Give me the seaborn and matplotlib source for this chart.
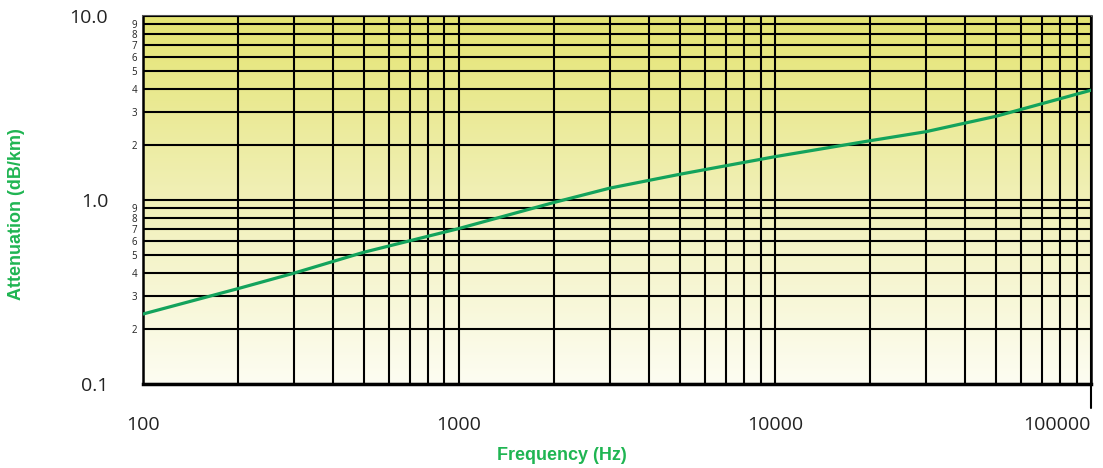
import numpy as np
import pandas as pd
import matplotlib
matplotlib.use("Agg")
import matplotlib.pyplot as plt
from matplotlib.ticker import FixedLocator, FuncFormatter, NullFormatter
from matplotlib.colors import LinearSegmentedColormap
import seaborn as sns

# values
freq_hz = [100, 200, 300, 500, 1000, 2000, 3000, 5000, 10000, 20000, 30000, 50000, 100000]
atten_db_km = [0.24, 0.33, 0.40, 0.52, 0.70, 0.97, 1.16, 1.38, 1.72, 2.1, 2.35, 2.85, 3.95]
x_major = [100, 1000, 10000, 100000]
x_major_labels = ["100", "1000", "10000", "100000"]
y_major = [0.1, 1.0, 10.0]
y_major_labels = ["0.1", "1.0", "10.0"]
y_minor_digits = [2, 3, 4, 5, 6, 7, 8, 9]

green_line = "#13a35c"
green_text = "#1fb552"

df = pd.DataFrame({"freq": freq_hz, "atten": atten_db_km})

sns.set_style("white")
plt.rcParams["font.family"] = ["Open Sans", "DejaVu Sans"]

fig = plt.figure(figsize=(11.03, 4.68), dpi=100)
ax = fig.add_axes([0.1296, 0.1795, 0.8595, 0.7863])
ax.set_xscale("log")
ax.set_yscale("log")
ax.set_xlim(100, 100000)
ax.set_ylim(0.1, 10)

# yellow to white background gradient
cmap = LinearSegmentedColormap.from_list("bg", ["#fdfdf2", "#f1f0b8", "#e4e472"])
grad = np.linspace(0, 1, 256).reshape(-1, 1)
ax.imshow(grad, cmap=cmap, aspect="auto", extent=[0, 1, 0, 1],
          transform=ax.transAxes, origin="lower", zorder=0)

# ticks
x_minor = [m * d for d in x_major[:-1] for m in range(2, 10)]
y_minor = [m * d for d in y_major[:-1] for m in y_minor_digits]
ax.xaxis.set_major_locator(FixedLocator(x_major))
ax.xaxis.set_minor_locator(FixedLocator(x_minor))
ax.xaxis.set_minor_formatter(NullFormatter())
ax.set_xticklabels(x_major_labels)
ax.yaxis.set_major_locator(FixedLocator(y_major))
ax.yaxis.set_minor_locator(FixedLocator(y_minor))
ax.set_yticklabels(y_major_labels)
ax.yaxis.set_minor_formatter(FuncFormatter(lambda v, p: "%d" % round(v / 10 ** np.floor(np.log10(v) + 1e-9))))

ax.tick_params(axis="x", which="major", length=0, pad=23, labelsize=14, colors="#222222")
ax.tick_params(axis="x", which="minor", length=0)
ax.tick_params(axis="y", which="major", length=13, width=1.5, pad=12, labelsize=14,
               colors="#222222", direction="out")
ax.tick_params(axis="y", which="minor", length=0, pad=4, labelsize=7, colors="#222222")
xt = ax.get_xticklabels()
xt[-1].set_horizontalalignment("right")

# grid
ax.grid(True, which="both", color="black", linewidth=1.5, zorder=1)
ax.set_axisbelow(False)

sns.lineplot(data=df, x="freq", y="atten", color=green_line, linewidth=2.3, ax=ax, zorder=3)

for side in ["left", "right", "bottom", "top"]:
    ax.spines[side].set_visible(True)
    ax.spines[side].set_color("black")
ax.spines["bottom"].set_linewidth(2.5)
ax.spines["left"].set_linewidth(1.8)
ax.spines["right"].set_linewidth(1.8)
ax.spines["top"].set_color("#555555")
ax.spines["top"].set_linewidth(1.5)

# small downward tick at the right end of the x axis
ax.plot([1, 1], [0, -0.065], transform=ax.transAxes, color="black", linewidth=1.5, clip_on=False)

ax.set_xlabel("Frequency (Hz)", color=green_text, fontsize=13, fontweight="bold",
              family=["Liberation Sans", "DejaVu Sans"])
ax.set_ylabel("Attenuation (dB/km)", color=green_text, fontsize=13, fontweight="bold",
              family=["Liberation Sans", "DejaVu Sans"])
ax.xaxis.set_label_coords(0.442, -0.170)
ax.yaxis.set_label_coords(-0.124, 0.462)

fig.savefig("out.png", dpi=100)
